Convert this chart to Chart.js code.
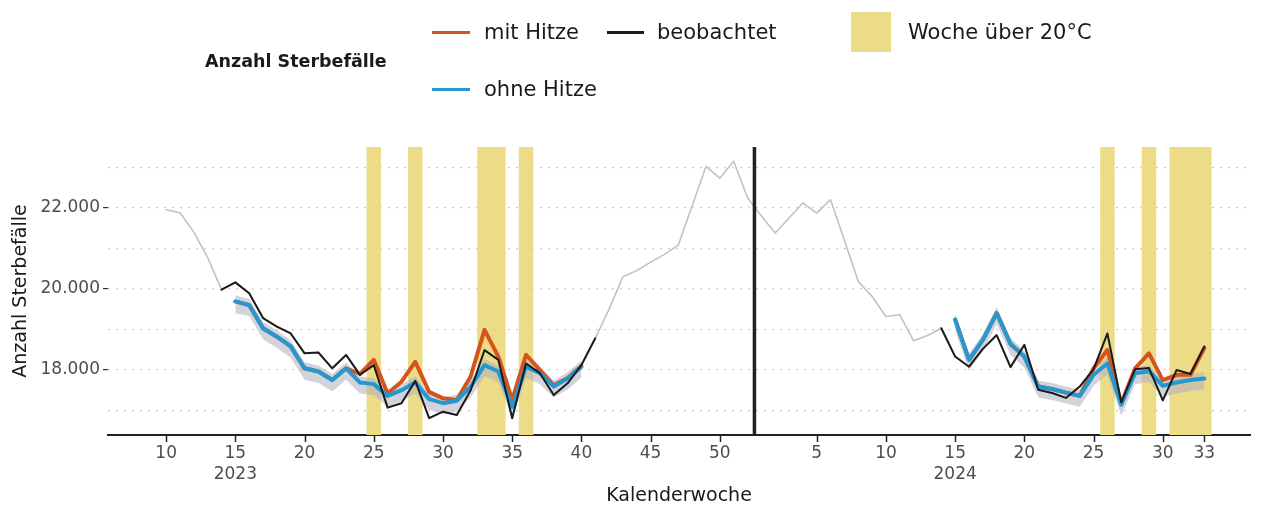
<!DOCTYPE html>
<html lang="de">
<head>
<meta charset="utf-8">
<title>Anzahl Sterbefälle</title>
<script src="https://cdn.jsdelivr.net/npm/chart.js@4.4.1/dist/chart.umd.min.js"></script>
<style>
  html, body { margin: 0; padding: 0; background: #fff; }
  #wrap { position: relative; width: 1263px; height: 508px; font-family: 'DejaVu Sans', sans-serif; color: #1a1a1a; }
  #c-sterbe { position: absolute; left: 0; top: 0; }
  .lg { position: absolute; font-size: 21px; line-height: 24px; white-space: nowrap; }
  .key { position: absolute; height: 3px; }
</style>
</head>
<body>
<div id="wrap">
  <canvas id="c-sterbe" width="1263" height="508"></canvas>
  <!-- Legende in HTML -->
  <div class="lg" style="left:205px; top:49px; font-weight:bold; font-size:17.5px;">Anzahl Sterbefälle</div>
  <div class="key" style="left:432px; top:31px; width:38px; background:#d6541c;"></div>
  <div class="lg" style="left:484px; top:20px;">mit Hitze</div>
  <div class="key" style="left:432px; top:88px; width:38px; background:#2598cf;"></div>
  <div class="lg" style="left:484px; top:77px;">ohne Hitze</div>
  <div class="key" style="left:607px; top:31px; width:37px; background:#1b1b1b;"></div>
  <div class="lg" style="left:657px; top:20px;">beobachtet</div>
  <div class="key" style="left:851px; top:12px; width:40px; height:40px; background:#ecdc87;"></div>
  <div class="lg" style="left:908px; top:20px;">Woche über 20°C</div>
</div>
<script>
// Kalenderwochen 2023 (KW 10-52) und 2024 (KW 1-33)
const wochen2023 = 52;           // Versatz für 2024 auf der x-Achse
const beobStart2023 = 10;
const beobachtet2023 = [21950, 21880, 21400, 20770, 19980, 20160, 19890, 19280, 19070, 18900,
    18410, 18430, 18040, 18370, 17880, 18120, 17070, 17180, 17730, 16810,
    16970, 16890, 17500, 18490, 18250, 16810, 18160, 17920, 17380, 17670,
    18120, 18780, 19500, 20300, 20450, 20660, 20850, 21080, 22050, 23020,
    22730, 23150, 22250];
const beobStart2024 = 1;
const beobachtet2024 = [21800, 21380, 21750, 22120, 21870, 22200, 21200, 20180, 19810, 19320,
    19360, 18720, 18850, 19030, 18330, 18080, 18520, 18860, 18070, 18620,
    17510, 17430, 17310, 17590, 18020, 18900, 17200, 18020, 18050, 17250,
    18000, 17900, 18580];
// schwarz hervorgehobener Zeitraum
const schwarz2023 = [14, 41];
const schwarz2024 = [14, 33];

// Schätzungen ab KW 15
const schaetzStart = 15;
const ohneHitze2023 = [19690, 19600, 19030, 18820, 18580, 18040, 17960, 17750, 18040, 17690,
    17650, 17360, 17500, 17690, 17280, 17180, 17240, 17590, 18120, 17960,
    17090, 18080, 17920, 17590, 17790, 18080];
const mitHitze2023 = [19690, 19600, 19030, 18820, 18580, 18040, 17960, 17750, 18040, 17900,
    18250, 17420, 17710, 18200, 17460, 17300, 17260, 17840, 18990, 18330,
    17260, 18370, 18000, 17620, 17800, 18100];
const bandUnten2023 = [19400, 19330, 18760, 18540, 18300, 17760, 17680, 17470, 17760, 17420,
    17380, 17090, 17230, 17420, 17010, 16910, 16970, 17320, 17850, 17690,
    16820, 17810, 17650, 17320, 17520, 17810];
const bandOben2023 = [19840, 19750, 19180, 18970, 18730, 18190, 18110, 17900, 18190, 17840,
    17800, 17510, 17650, 17840, 17430, 17330, 17390, 17740, 18270, 18110,
    17240, 18230, 18070, 17740, 17940, 18230];

const ohneHitze2024 = [19240, 18250, 18740, 19400, 18640, 18330, 17590, 17530, 17440, 17360,
    17880, 18160, 17140, 17920, 17970, 17610, 17690, 17750, 17790];
const mitHitze2024 = [19240, 18250, 18740, 19400, 18640, 18330, 17590, 17530, 17440, 17360,
    18040, 18490, 17170, 18040, 18410, 17750, 17880, 17880, 18540];
const bandUnten2024 = [18970, 17980, 18470, 19130, 18370, 18060, 17320, 17260, 17170, 17090,
    17610, 17890, 16870, 17650, 17700, 17340, 17420, 17480, 17520];
const bandOben2024 = [19390, 18400, 18890, 19550, 18790, 18480, 17740, 17680, 17590, 17510,
    18030, 18310, 17290, 18070, 18120, 17760, 17840, 17900, 17940];

// Wochen über 20°C
const hitze2023 = [25, 28, 33, 34, 36];
const hitze2024 = [26, 29, 31, 32, 33];

// Achsen
const xMin = 5.8, xMax = 88.3;
const yMin = 16395, yMax = 23500;
const yGitter = [17000, 18000, 19000, 20000, 21000, 22000, 23000];
const yBeschriftet = [18000, 20000, 22000];
const xTickPos = [10, 15, 20, 25, 30, 35, 40, 45, 50, 57, 62, 67, 72, 77, 82, 85];
const xTickLabels = ['10', ['15', '2023'], '20', '25', '30', '35', '40', '45', '50',
    '5', '10', ['15', '2024'], '20', '25', '30', '33'];
const jahreswechsel = 52.5;

const pts = (vals, start, offset) => vals.map((v, i) => ({ x: offset + start + i, y: v }));
const fmt = v => String(v).replace(/\B(?=(\d{3})+(?!\d))/g, '.');

const beob = pts(beobachtet2023, beobStart2023, 0).concat(pts(beobachtet2024, beobStart2024, wochen2023));
const schwarzA = beob.filter(p => p.x >= schwarz2023[0] && p.x <= schwarz2023[1]);
const schwarzB = beob.filter(p => p.x >= wochen2023 + schwarz2024[0] && p.x <= wochen2023 + schwarz2024[1]);
const hitze = hitze2023.concat(hitze2024.map(w => w + wochen2023)).map(x => ({ x: x, y: [yMin, yMax] }));

function linie(data, color, width, order) {
    return { type: 'line', data: data, borderColor: color, borderWidth: width, pointRadius: 0,
        fill: false, order: order, borderJoinStyle: 'round', borderCapStyle: 'round' };
}
function band(unten, oben, offset, order) {
    return [
        { type: 'line', data: pts(unten, schaetzStart, offset), borderWidth: 0, pointRadius: 0, fill: false, order: order },
        { type: 'line', data: pts(oben, schaetzStart, offset), borderWidth: 0, pointRadius: 0, fill: '-1',
          backgroundColor: 'rgba(175,175,190,0.55)', order: order }
    ];
}

const rot = '#d6541c', blau = '#2598cf', schwarz = '#1b1b1b';

const datasets = [
    { type: 'bar', data: hitze, backgroundColor: '#ecdc87', borderWidth: 0, barPercentage: 1, categoryPercentage: 1, order: 20 },
    ...band(bandUnten2023, bandOben2023, 0, 15),
    ...band(bandUnten2024, bandOben2024, wochen2023, 15),
    linie(beob, '#c2c2c2', 1.6, 12),
    linie(pts(mitHitze2023, schaetzStart, 0), rot, 4, 8),
    linie(pts(mitHitze2024, schaetzStart, wochen2023), rot, 4, 8),
    linie(pts(ohneHitze2023, schaetzStart, 0), blau, 4, 6),
    linie(pts(ohneHitze2024, schaetzStart, wochen2023), blau, 4, 6),
    linie(schwarzA, schwarz, 2, 3),
    linie(schwarzB, schwarz, 2, 3),
    linie([{ x: jahreswechsel, y: yMin }, { x: jahreswechsel, y: yMax }], '#222', 3.5, 1)
];

// kurze Striche unter der x-Achse an den beschrifteten Wochen
const xStriche = {
    id: 'xStriche',
    afterDraw(chart) {
        const { ctx, scales: { x } } = chart;
        const y0 = chart.chartArea.bottom;
        ctx.save();
        ctx.strokeStyle = '#222';
        ctx.lineWidth = 1.5;
        ctx.beginPath();
        xTickPos.forEach(v => {
            const px = Math.round(x.getPixelForValue(v)) + 0.5;
            ctx.moveTo(px, y0 + 1);
            ctx.lineTo(px, y0 + 7);
        });
        ctx.stroke();
        ctx.restore();
    }
};

Chart.defaults.font.family = "'DejaVu Sans', sans-serif";

new Chart(document.getElementById('c-sterbe'), {
    type: 'line',
    data: { datasets: datasets },
    plugins: [xStriche],
    options: {
        responsive: false, animation: false,
        layout: { padding: { top: 147, right: 13, left: 0, bottom: 0 } },
        plugins: { legend: { display: false }, tooltip: { enabled: false } },
        scales: {
            x: {
                type: 'linear', min: xMin, max: xMax, offset: false,
                afterFit: s => { s.height = 73; },
                afterBuildTicks: s => { s.ticks = xTickPos.map(v => ({ value: v })); },
                ticks: { autoSkip: false, maxRotation: 0, padding: 1, color: '#4d4d4d',
                    font: { size: 17, lineHeight: 1.25 },
                    callback: (v, i) => xTickLabels[i] },
                grid: { offset: false, drawOnChartArea: false, drawTicks: true, tickLength: 7,
                    tickColor: 'rgba(0,0,0,0)' },
                border: { display: true, color: '#222', width: 2 },
                title: { display: true, text: 'Kalenderwoche', color: '#1a1a1a',
                    font: { size: 19 }, padding: { top: 0, bottom: 1 } }
            },
            y: {
                min: yMin, max: yMax,
                afterFit: s => { s.width = 108; },
                afterBuildTicks: s => { s.ticks = yGitter.map(v => ({ value: v })); },
                ticks: { color: '#4d4d4d', padding: 3, font: { size: 17 },
                    callback: v => yBeschriftet.includes(v) ? fmt(v) : '' },
                grid: { color: '#cdcdcd', lineWidth: 1.2, tickLength: 5, tickWidth: 1.2,
                    tickColor: ctx => (ctx.tick && yBeschriftet.includes(ctx.tick.value)) ? '#333' : 'rgba(0,0,0,0)' },
                border: { display: false, dash: [2, 6] },
                title: { display: true, text: 'Anzahl Sterbefälle', color: '#1a1a1a',
                    font: { size: 19 }, padding: { top: 10, bottom: 0 } }
            }
        }
    }
});
</script>
</body>
</html>
